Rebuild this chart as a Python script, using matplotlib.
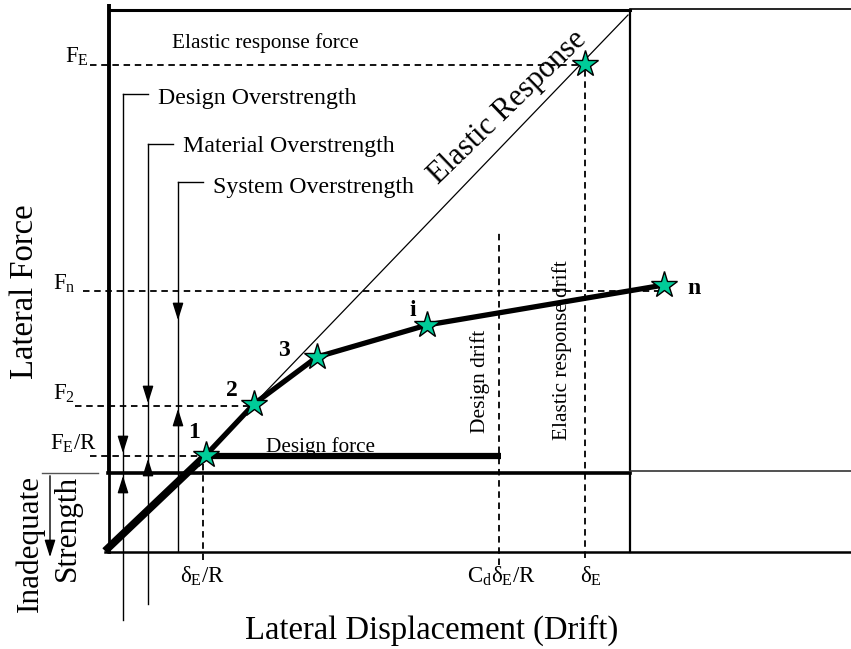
import matplotlib.pyplot as plt

plt.rcParams["font.family"] = ["Liberation Serif", "DejaVu Serif"]
plt.rcParams["mathtext.fontset"] = "custom"
plt.rcParams["mathtext.rm"] = "Liberation Serif"

# capacity curve points (drift, force)
point_labels = ["1", "2", "3", "i", "n"]
curve_drift = [101, 149, 212, 322, 559]
curve_force = [96, 147, 194, 226, 266]

# elastic response point
elastic_drift = 480
elastic_force = 487
elastic_end = (523, 536)

# force levels
force_names = [r"$\mathrm{F_E}$", r"$\mathrm{F_n}$", r"$\mathrm{F_2}$", r"$\mathrm{F_E/R}$"]
force_levels = [486, 260, 145, 95]
force_dash_to = [480, 559, 149, 101]

# drift levels
drift_names = [r"$\mathrm{δ_E/R}$", r"$\mathrm{C_dδ_E/R}$", r"$\mathrm{δ_E}$"]
drift_levels = [98, 394, 480]
drift_dash_from = [95, 318, 487]

design_force = 95
design_force_end = 396
required_strength = 78

# overstrength brackets: upper and lower bound of each
over_names = ["Design Overstrength", "Material Overstrength", "System Overstrength"]
over_upper = [95, 145, 228]
over_lower = [78, 95, 145]

fig = plt.figure(figsize=(8.51, 6.49), dpi=100)
ax = fig.add_axes([0, 0, 1, 1])
ax.set_xlim(-105, 746)
ax.set_ylim(-98, 551)
ax.axis("off")

# frame
ax.plot([4, 4], [required_strength, 547], color="black", lw=2.8, solid_capstyle="butt")
ax.plot([4, 4], [-1, required_strength], color="black", lw=2)
ax.plot([4, 525], [541, 541], color="black", lw=2.2)
ax.plot([525, 746], [542, 542], color="black", lw=1.2)
ax.plot([525, 525], [-1, 541], color="black", lw=1.6)
ax.plot([3, 525], [required_strength, required_strength], color="black", lw=2.6)
ax.plot([525, 746], [80, 80], color="#333333", lw=1.2)
ax.plot([0, 746], [-1, -1], color="black", lw=1.8)

dash = dict(color="black", lw=1.3, dashes=(3.6, 2.6))

# dashed force levels
starts = [-15, -22, -30, -15]
for lvl, end, x0 in zip(force_levels, force_dash_to, starts):
    ax.plot([x0, end], [lvl, lvl], **dash)
lab_x = [-40, -52, -52, -55]
lab_dy = [2, 1, 6, 6]
for name, lvl, lx, dy in zip(force_names, force_levels, lab_x, lab_dy):
    ax.text(lx, lvl + dy, name, fontsize=16.5, ha="left", va="baseline")

# dashed drift levels
bottoms = [-9, -14, -7]
for d, top, b in zip(drift_levels, drift_dash_from, bottoms):
    ax.plot([d, d], [b, top], **dash)
lab_dx = [-1, 2, 6]
for name, d, dx in zip(drift_names, drift_levels, lab_dx):
    ax.text(d + dx, -32, name, fontsize=16.5, ha="center", va="baseline")

# elastic response line
ax.plot([curve_drift[1], elastic_end[0]], [curve_force[1], elastic_end[1]], color="black", lw=0.9)

# capacity curve
ax.plot([0, curve_drift[0]], [0, curve_force[0]], color="black", lw=5.5, solid_capstyle="butt", zorder=4)
ax.plot(curve_drift, curve_force, color="black", lw=3.8, zorder=4)

# design force
ax.plot([curve_drift[0], design_force_end], [design_force, design_force], color="black", lw=4.5,
        solid_capstyle="butt", zorder=4)

# stars
ax.plot(curve_drift + [elastic_drift], curve_force + [elastic_force], linestyle="none", marker="*",
        markersize=20, markerfacecolor="#00cc99", markeredgecolor="black", markeredgewidth=1, zorder=5)

offsets = [(-12, 23), (-22, 13), (-33, 7), (-14, 14), (30, -4)]
for lab, x, y, (dx, dy) in zip(point_labels, curve_drift, curve_force, offsets):
    ax.text(x + dx, y + dy, lab, fontsize=17, fontweight="bold", ha="center", va="center")

# overstrength brackets
bx = [18, 43, 73]
tops = [457, 407, 369]
bots = [-69, -53, 0]
txt_base = [447, 399, 358]
head = dict(arrowstyle="-|>,head_length=0.7,head_width=0.22", color="black", lw=1, mutation_scale=15)
for name, x, top, bot, up, lo, tb in zip(over_names, bx, tops, bots, over_upper, over_lower, txt_base):
    ax.plot([x, x], [bot, top], color="black", lw=1)
    ax.plot([x, x + 25], [top, top], color="black", lw=1)
    ax.annotate("", xy=(x, up), xytext=(x, up + 16), arrowprops=head)
    ax.annotate("", xy=(x, lo), xytext=(x, lo - 16), arrowprops=head)
    ax.text(x + 35, tb, name, fontsize=17.2, ha="left", va="baseline")

# inadequate strength marker
ax.plot([-63, -7], [required_strength, required_strength], color="#555555", lw=1)
ax.annotate("", xy=(-55, -9), xytext=(-55, required_strength), arrowprops=head)

# texts
ax.text(160, 503, "Elastic response force", fontsize=15.3, ha="center", va="baseline")
ax.text(403, 444, "Elastic Response", fontsize=22, rotation=44, ha="center", va="center")
ax.text(216, 104, "Design force", fontsize=15.3, ha="center", va="center")
ax.text(375, 170, "Design drift", fontsize=15.5, rotation=90, ha="center", va="center")
ax.text(457, 201, "Elastic response drift", fontsize=15.3, rotation=90, ha="center", va="center")
ax.text(-80, 259, "Lateral Force", fontsize=23.5, rotation=90, ha="center", va="center")
ax.text(-75, 76, "Inadequate", fontsize=22.5, rotation=90, ha="center", va="top")
ax.text(-38, 76, "Strength", fontsize=22.5, rotation=90, ha="center", va="top")
ax.text(327, -79, "Lateral Displacement (Drift)", fontsize=23.5, ha="center", va="center")

fig.savefig("out.png", dpi=100)
